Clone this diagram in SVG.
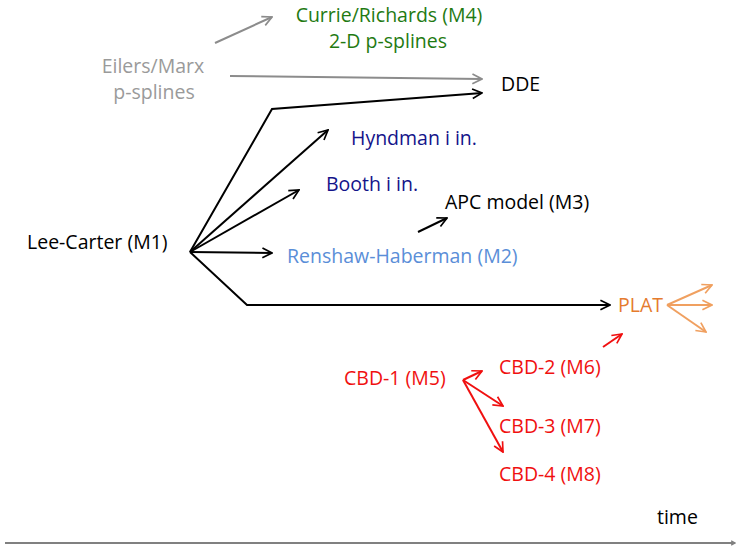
<svg xmlns="http://www.w3.org/2000/svg" width="738" height="552" viewBox="0 0 738 552">
<style>
text{font-family:"Open Sans","Noto Sans",sans-serif;font-size:19.5px}
.k{fill:#000}.g{fill:#9a9a9a}.gr{fill:#1f7a12}.n{fill:#14148a}.b{fill:#5a8ed8}.o{fill:#e57b2e}.r{fill:#f01010}
line,polyline{fill:none;stroke-width:2}
</style>
<defs>
<marker id="ak" viewBox="0 0 10 10" refX="9" refY="5" markerWidth="6" markerHeight="6" orient="auto" markerUnits="strokeWidth"><path d="M1,1 L9,5 L1,9" fill="none" stroke="#000" stroke-width="1.4"/></marker>
<marker id="ag" viewBox="0 0 10 10" refX="9" refY="5" markerWidth="6" markerHeight="6" orient="auto" markerUnits="strokeWidth"><path d="M1,1 L9,5 L1,9" fill="none" stroke="#8c8c8c" stroke-width="1.4"/></marker>
<marker id="ar" viewBox="0 0 10 10" refX="9" refY="5" markerWidth="6" markerHeight="6" orient="auto" markerUnits="strokeWidth"><path d="M1,1 L9,5 L1,9" fill="none" stroke="#f01010" stroke-width="1.4"/></marker>
<marker id="ao" viewBox="0 0 10 10" refX="9" refY="5" markerWidth="6" markerHeight="6" orient="auto" markerUnits="strokeWidth"><path d="M1,1 L9,5 L1,9" fill="none" stroke="#f0a060" stroke-width="1.4"/></marker>
<marker id="at" viewBox="0 0 10 10" refX="8.5" refY="5" markerWidth="3" markerHeight="3" orient="auto" markerUnits="strokeWidth"><path d="M2,1.5 L8.5,5 L2,8.5" fill="none" stroke="#808080" stroke-width="2.2"/></marker>
</defs>
<g id="connectors">
<line x1="215" y1="43" x2="272" y2="17" stroke="#8c8c8c" marker-end="url(#ag)"/>
<line x1="230" y1="76" x2="482" y2="79" stroke="#8c8c8c" marker-end="url(#ag)"/>
<polyline points="190,252 272,109 482,93" stroke="#000" marker-end="url(#ak)"/>
<line x1="190" y1="252" x2="328" y2="130" stroke="#000" marker-end="url(#ak)"/>
<line x1="190" y1="252" x2="299" y2="190" stroke="#000" marker-end="url(#ak)"/>
<line x1="190" y1="252" x2="272" y2="253" stroke="#000" marker-end="url(#ak)"/>
<polyline points="190,252 247,305 610,305" stroke="#000" marker-end="url(#ak)"/>
<line x1="418" y1="232" x2="447" y2="218" stroke="#000" marker-end="url(#ak)"/>
<line x1="667" y1="305" x2="712" y2="285" stroke="#f0a060" marker-end="url(#ao)"/>
<line x1="667" y1="305" x2="712" y2="305" stroke="#f0a060" marker-end="url(#ao)"/>
<line x1="667" y1="305" x2="706" y2="332" stroke="#f0a060" marker-end="url(#ao)"/>
<line x1="603" y1="347" x2="622" y2="334" stroke="#f01010" marker-end="url(#ar)"/>
<line x1="463" y1="380" x2="482" y2="371" stroke="#f01010" marker-end="url(#ar)"/>
<line x1="463" y1="380" x2="503" y2="406" stroke="#f01010" marker-end="url(#ar)"/>
<line x1="463" y1="380" x2="503" y2="452" stroke="#f01010" marker-end="url(#ar)"/>
<line x1="5" y1="543" x2="735" y2="543" stroke="#808080" stroke-width="4" marker-end="url(#at)"/>
</g>
<g id="currie"><text class="gr" x="389" y="22" text-anchor="middle">Currie/Richards (M4)</text><text class="gr" x="388" y="48" text-anchor="middle">2-D p-splines</text></g>
<g id="eilers"><text class="g" x="153" y="73" text-anchor="middle">Eilers/Marx</text><text class="g" x="154" y="99" text-anchor="middle">p-splines</text></g>
<g id="dde"><text class="k" x="501" y="91">DDE</text></g>
<g id="hyndman"><text class="n" x="351" y="145">Hyndman i in.</text></g>
<g id="booth"><text class="n" x="326" y="191">Booth i in.</text></g>
<g id="apc"><text class="k" x="445" y="209">APC model (M3)</text></g>
<g id="leecarter"><text class="k" x="27" y="249">Lee-Carter (M1)</text></g>
<g id="renshaw"><text class="b" x="287" y="263">Renshaw-Haberman (M2)</text></g>
<g id="plat"><text class="o" x="618" y="312">PLAT</text></g>
<g id="cbd1"><text class="r" x="344" y="385">CBD-1 (M5)</text></g>
<g id="cbd2"><text class="r" x="499" y="374">CBD-2 (M6)</text></g>
<g id="cbd3"><text class="r" x="499" y="433">CBD-3 (M7)</text></g>
<g id="cbd4"><text class="r" x="499" y="481">CBD-4 (M8)</text></g>
<g id="time"><text class="k" x="657" y="524">time</text></g>
</svg>
